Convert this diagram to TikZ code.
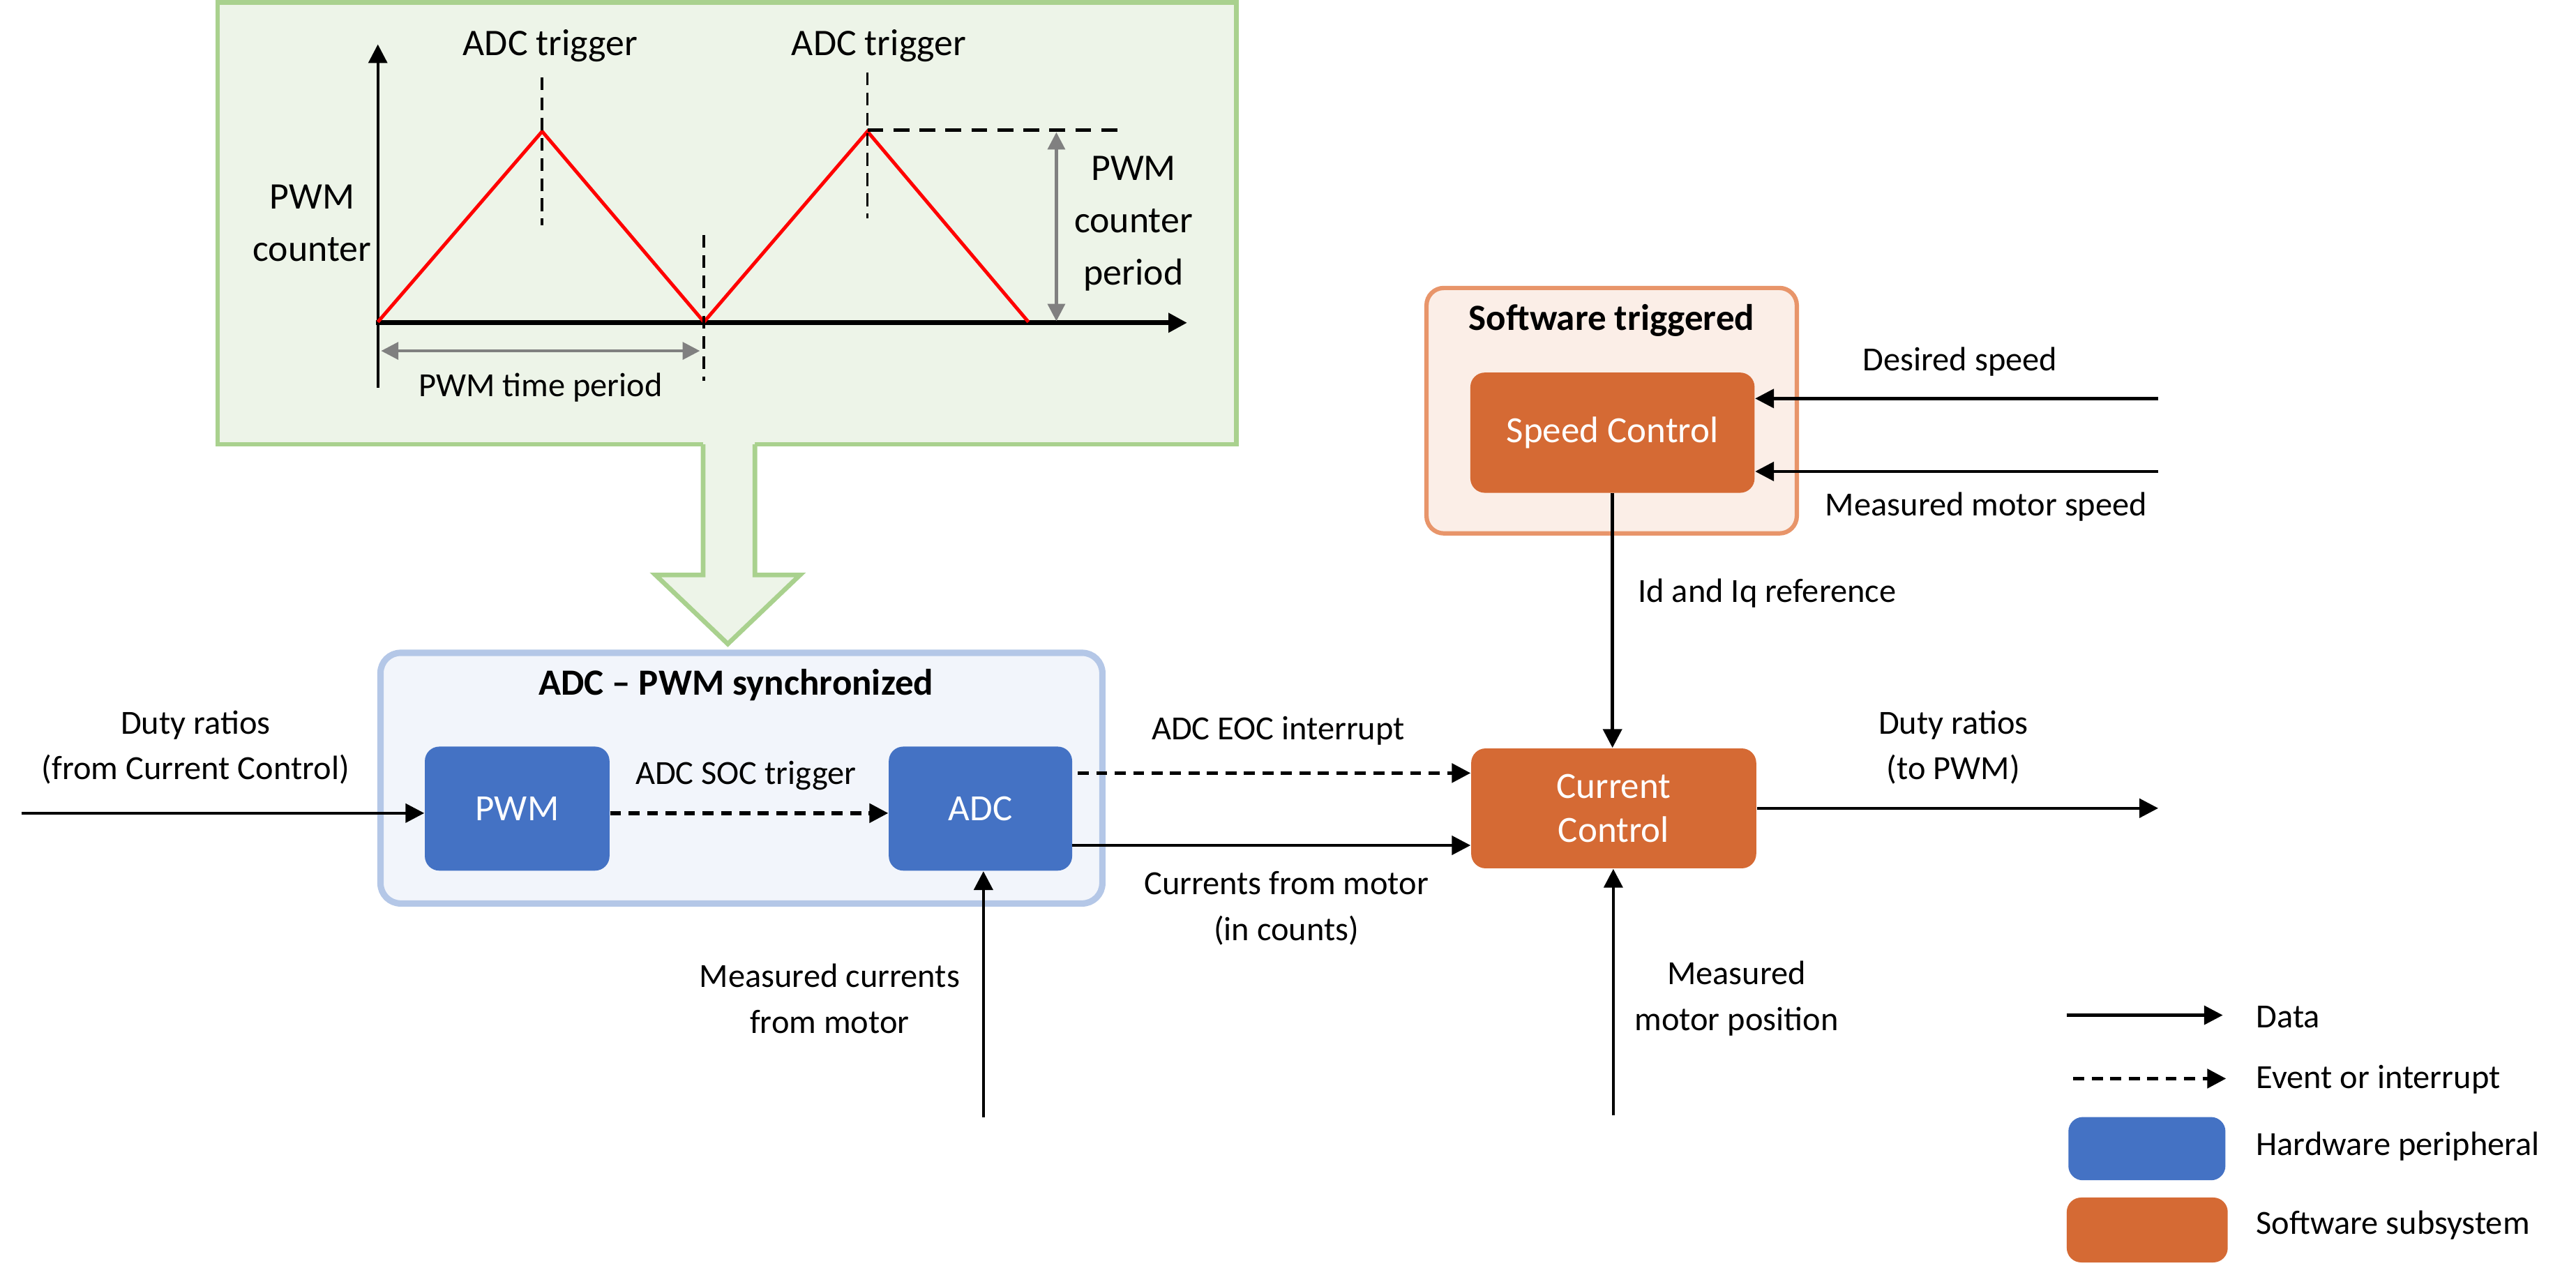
\documentclass[tikz,border=0pt]{standalone}
\usepackage{fontspec}
\setmainfont{Carlito}
\usetikzlibrary{arrows.meta,fit}
\definecolor{hwblue}{HTML}{4472C4}
\definecolor{sworange}{HTML}{D56A34}
\definecolor{greenfill}{HTML}{EDF4E8}
\definecolor{greenline}{HTML}{A9D18E}
\definecolor{bluefill}{HTML}{F2F5FB}
\definecolor{blueline}{HTML}{B4C7E7}
\definecolor{orfill}{HTML}{FBEEE7}
\definecolor{orline}{HTML}{E8956A}
\definecolor{dimgray}{HTML}{808080}
\begin{document}
\begin{tikzpicture}[x=0.02cm,y=-0.02cm,
  lbl/.style={font=\fontsize{11.7}{15.9}\selectfont, align=center, inner sep=0pt},
  chart/.style={font=\fontsize{13}{18.1}\selectfont, align=center, inner sep=0pt},
  ttl/.style={font=\bfseries\fontsize{12.8}{15}\selectfont, inner sep=0pt},
  hw/.style={fill=hwblue, draw=none, rounded corners=5pt, inner sep=0pt},
  sw/.style={hw, fill=sworange},
  boxtxt/.style={text=white, font=\fontsize{12.8}{15.2}\selectfont, align=center, inner sep=0pt},
  data/.style={line width=1.1pt, -{Triangle[length=6.5pt,width=6.5pt]}},
  event/.style={data, line width=1.3pt, dash pattern=on 3.8pt off 2.6pt},
  dim/.style={draw=dimgray, line width=1pt, {Triangle[length=6pt,width=6pt]}-{Triangle[length=6pt,width=6pt]}},
  trig/.style={line width=0.9pt, dash pattern=on 4.5pt off 2.5pt}
]
\useasboundingbox (0,0) rectangle (1568,771.5);

% ---------- timing chart box ----------
\node[fill=greenfill, draw=greenline, line width=1.6pt, inner sep=0pt,
      fit={(132.5,1.5)(752.5,270.5)}] (chartbox) {};
% block arrow
\fill[greenfill] (428,266) -- (428,350) -- (399,350) -- (443,392) -- (487,350) -- (459.5,350) -- (459.5,266) -- cycle;
\draw[greenline, line width=1.6pt, line join=miter] (428,270.5) -- (428,350) -- (399,350) -- (443,392) -- (487,350) -- (459.5,350) -- (459.5,270.5);

% axes
\draw[line width=1pt, -{Triangle[length=6.5pt,width=6.5pt]}] (230,236) -- (230,27);
\draw[line width=1.6pt, -{Triangle[length=6.5pt,width=6.5pt]}] (229,196.5) -- (722.6,196.5);
% triangle wave
\draw[red, line width=1.2pt, line join=miter] (230,196) -- (330,80) -- (428.5,196) -- (528,80) -- (626,196);
% trigger lines
\draw[trig] (330,47) -- (330,137);
\draw[trig] (528,44) -- (528,133);
\draw[trig] (428.5,143) -- (428.5,232);
\draw[line width=1pt, dash pattern=on 5.5pt off 3.5pt] (528,79.2) -- (686,79.2);
% dimension arrows
\draw[dim] (232,213.6) -- (426,213.6);
\draw[dim] (643,80.5) -- (643,195.5);

\node[chart] (trig1) at (335,28) {ADC trigger};
\node[chart] (trig2) at (535,28) {ADC trigger};
\node[chart] (pcount) at (190,136) {PWM\\counter};
\node[chart] (pperiod) at (690,136) {PWM\\counter\\period};
\node[lbl] (ptime) at (329,236) {PWM time period};

% ---------- ADC - PWM synchronized ----------
\node[fill=bluefill, draw=blueline, line width=2.2pt, rounded corners=7pt, inner sep=0pt,
      fit={(231.6,397.4)(671,550)}] (sync) {};
\node[ttl] (synct) at (448,417) {ADC – PWM synchronized};
\node[hw, fit={(258.6,454.5)(371,530)}] (pwm) {};
\node[boxtxt] (pwmt) at (pwm.center) {PWM};
\node[hw, fit={(541,454.5)(652.6,530)}] (adc) {};
\node[boxtxt] (adct) at (adc.center) {ADC};

% ---------- Software triggered ----------
\node[fill=orfill, draw=orline, line width=1.5pt, rounded corners=6pt, inner sep=0pt,
      fit={(868.3,175.3)(1093.7,324.7)}] (swt) {};
\node[ttl] (swtt) at (981,195) {Software triggered};
\node[sw, fit={(895,226.8)(1068,300)}] (sc) {};
\node[boxtxt] (sct) at (sc.center) {Speed Control};
\node[sw, fit={(895.5,455.6)(1069,528.6)}] (cc) {};
\node[boxtxt] (cct) at (cc.center) {Current\\Control};

% ---------- connectors ----------
\coordinate (dutyin) at (13,495);
\draw[data] (dutyin) -- (dutyin -| pwm.west);
\draw[event] (pwm.east |- dutyin) -- (adc.west |- dutyin);
\coordinate (eoc) at (656,470.6);
\draw[event] (eoc) -- (eoc -| cc.west);
\coordinate (cur) at (652.6,514.6);
\draw[data] (cur) -- (cur -| cc.west);
\coordinate (mcur) at (598.6,680);
\draw[data] (mcur) -- (mcur |- adc.south);
\draw[data] (sc.south) -- (sc.south |- cc.north);
\coordinate (ds) at (1313.7,242.6);
\draw[data] (ds) -- (ds -| sc.east);
\coordinate (ms) at (1313.7,287);
\draw[data] (ms) -- (ms -| sc.east);
\coordinate (dout) at (1313.7,492);
\draw[data] (dout -| cc.east) -- (dout);
\coordinate (mpos) at (982,679);
\draw[data] (mpos) -- (mpos |- cc.south);

% ---------- labels ----------
\node[lbl] (l1) at (119,455) {Duty ratios\\(from Current Control)};
\node[lbl] (l2) at (454,472) {ADC SOC trigger};
\node[lbl] (l3) at (778,445) {ADC EOC interrupt};
\node[lbl] (l4) at (783,553) {Currents from motor\\(in counts)};
\node[lbl] (l5) at (505,608) {Measured currents\\from motor};
\node[lbl] (l6) at (1193,220) {Desired speed};
\node[lbl] (l7) at (1209,308.7) {Measured motor speed};
\node[lbl] (l8) at (1075.6,361) {Id and Iq reference};
\node[lbl] (l9) at (1189,455) {Duty ratios\\(to PWM)};
\node[lbl] (l10) at (1057,608) {Measured\\motor position};

% ---------- legend ----------
\coordinate (lga) at (1258,618);
\coordinate (lgb) at (1353,618);
\draw[data] (lga) -- (lgb);
\coordinate (lgc) at (1262,656.6);
\coordinate (lgd) at (1355,656.6);
\draw[event] (lgc) -- (lgd);
\node[hw, fit={(1259,680)(1354.6,718.5)}] (lghw) {};
\node[sw, fit={(1258,729)(1356,768.5)}] (lgsw) {};
\node[lbl, anchor=west] (lt1) at (1373,619) {Data};
\node[lbl, anchor=west] (lt2) at (1373,657) {Event or interrupt};
\node[lbl, anchor=west] (lt3) at (1373,698) {Hardware peripheral};
\node[lbl, anchor=west] (lt4) at (1373,746) {Software subsystem};
\end{tikzpicture}
\end{document}
